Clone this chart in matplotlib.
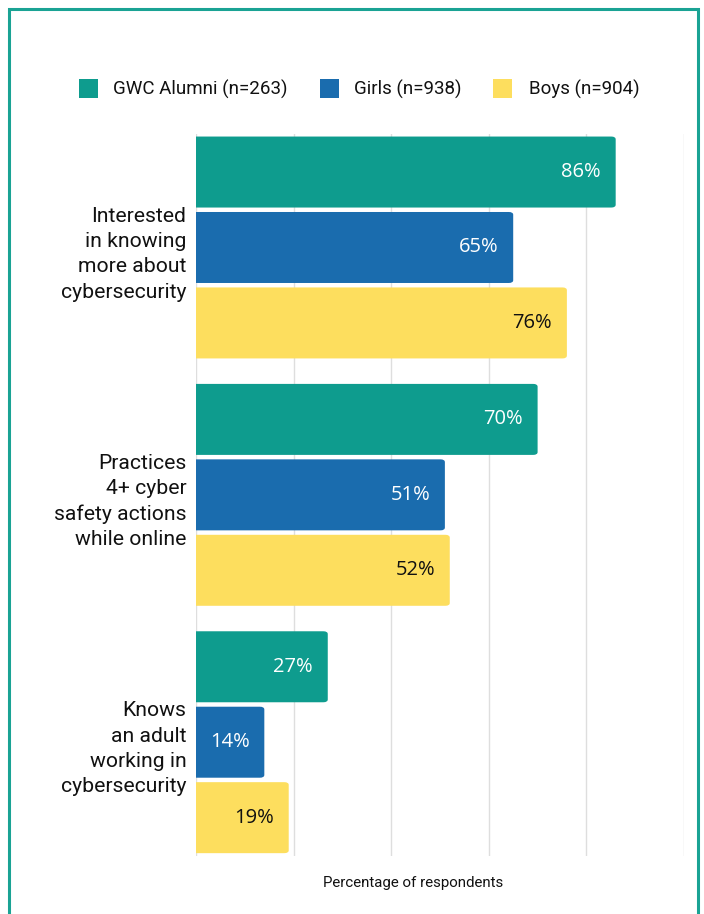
import matplotlib
matplotlib.use("Agg")
import matplotlib.pyplot as plt
from matplotlib.patches import Rectangle, FancyBboxPatch
import numpy as np

plt.rcParams['font.family'] = ['Roboto', 'DejaVu Sans']

categories = [
    "Interested\nin knowing\nmore about\ncybersecurity",
    "Practices\n4+ cyber\nsafety actions\nwhile online",
    "Knows\nan adult\nworking in\ncybersecurity",
]
series_names = ["GWC Alumni (n=263)", "Girls (n=938)", "Boys (n=904)"]
alumni = [86, 70, 27]
girls = [65, 51, 14]
boys = [76, 52, 19]
grid_ticks = [0, 20, 40, 60, 80, 100]

colors = ["#0E9C8E", "#1A6CAE", "#FDDE5E"]
label_colors = ["white", "white", "#111111"]

W, H = 704, 914
fig = plt.figure(figsize=(W / 100, H / 100), dpi=100)

# outer frame
fig.add_artist(Rectangle((9 / W, -0.05), (698 - 9) / W, 1.05 - 9 / H,
                         transform=fig.transFigure, fill=False,
                         edgecolor="#1AA394", linewidth=2.2))

ax_left, ax_right = 196 / W, 684 / W
ax_top, ax_bot = 133.7 / H, 856 / H
ax = fig.add_axes([ax_left, 1 - ax_bot, ax_right - ax_left, ax_bot - ax_top])

pitch = 0.305
height = 0.287
y = np.arange(len(categories))
all_series = [alumni, girls, boys]

for k, (vals, col, lc) in enumerate(zip(all_series, colors, label_colors)):
    pos = y + (k - 1) * pitch
    bars = ax.barh(pos, vals, height=height, color=col, zorder=2)
    for bar, v in zip(bars, vals):
        bar.set_visible(False)
        x0, y0 = bar.get_x(), bar.get_y()
        w, h = bar.get_width(), bar.get_height()
        # rounded right end, square left end
        rp = FancyBboxPatch((x0 - 3, y0), w + 3, h,
                            boxstyle="round,pad=0,rounding_size=0.9",
                            mutation_aspect=0.0125,
                            facecolor=col, edgecolor="none", zorder=2,
                            clip_on=True)
        ax.add_patch(rp)
        ax.text(v - 3.0, bar.get_y() + h / 2, f"{v}%", ha="right",
                va="center", color=lc, fontsize=14.5, zorder=3,
                family=["Open Sans", "DejaVu Sans"])

ax.set_xlim(0, 100)
ax.set_ylim(2.46, -0.46)
ax.set_xticks(grid_ticks)
ax.set_xticklabels([])
ax.tick_params(axis="both", length=0)
ax.grid(axis="x", color="#DEDEDE", linewidth=1, zorder=0)
ax.set_yticks(y + 0.006)
ax.set_yticklabels(categories, fontsize=15.2, linespacing=1.42, color="#111111")
ax.tick_params(axis="y", pad=7)
for s in ax.spines.values():
    s.set_visible(False)

fig.text(413 / W, 1 - 883 / H, "Percentage of respondents", ha="center",
         va="center", fontsize=10.8, color="#111111")

# legend
leg_items = [(79, 113), (320, 354), (493, 529)]
for (sx, tx), name, col in zip(leg_items, series_names, colors):
    fig.add_artist(Rectangle((sx / W, 1 - 98 / H), 19 / W, 19 / H,
                             transform=fig.transFigure, facecolor=col,
                             edgecolor="none"))
    fig.text(tx / W, 1 - 89 / H, name, ha="left", va="center",
             fontsize=13.5, color="#111111")

fig.savefig("out.png", dpi=100)
